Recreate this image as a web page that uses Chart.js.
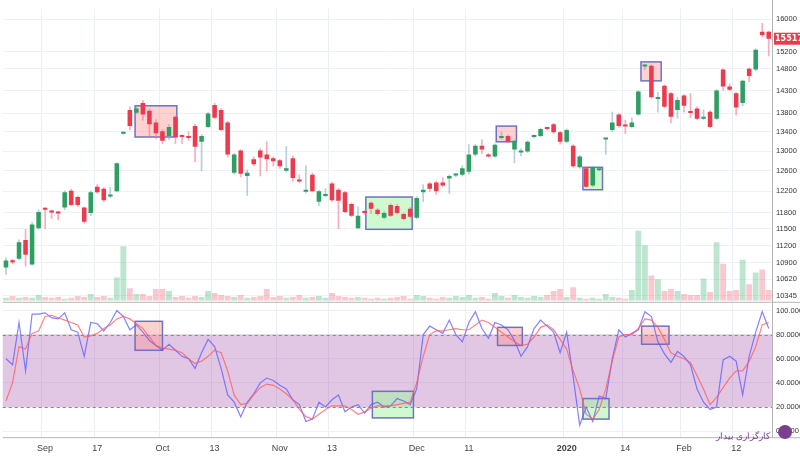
<!DOCTYPE html>
<html>
<head>
<meta charset="utf-8">
<script src="https://cdn.jsdelivr.net/npm/chart.js@4"></script>
<style>body{margin:0;background:#fff}</style>
</head>
<body>
<canvas id="myChart" width="800" height="460"></canvas>
<script>
// daily candles, Sep 2019 - Feb 2020
const open = [10820,10930,10970,11300,10870,11510,11870,11820,11800,11890,
  12210,12090,11890,11790,12290,12250,12100,12200,13360,13870,
  13810,14020,13850,13600,13410,13310,13720,13310,13290,13520,
  13190,13500,13980,13870,13600,12560,13010,12500,12830,13010,
  12930,12850,12810,12600,12850,12400,12190,12520,12000,12110,
  12350,12230,12180,11960,11510,11810,11980,11850,11700,11940,
  11920,11770,11870,11700,12180,12350,12370,12370,12450,12510,
  12520,12580,12930,13110,12930,12890,13270,13310,13030,12970,
  12990,13290,13310,13480,13560,13390,13190,13110,12670,12650,
  12310,12610,13240,13440,13770,13530,13500,13770,14850,14870,
  14110,14410,14240,13870,14190,13820,13900,13680,13830,13680,
  14780,14390,14240,14020,14800,14780,15690,15690];
const close = [10940,10910,11260,11040,11580,11810,11850,11800,11780,12180,
  11940,11940,11630,12180,12180,12030,12140,12750,13380,13520,
  13900,13770,13560,13370,13210,13500,13290,13290,13270,13090,
  13310,13790,13700,13440,12930,12930,12540,12560,12730,12870,
  12830,12790,12690,12650,12460,12390,12200,12200,12200,12120,
  12030,12020,11810,11740,11740,11790,11870,11770,11790,11740,
  11790,11680,11720,12070,12230,12250,12200,12310,12500,12530,
  12650,12930,13110,13030,12890,13130,13310,13190,13210,12980,
  13190,13310,13460,13460,13390,13190,13440,12690,12890,12290,
  12670,12620,13260,13600,13520,13510,13600,14280,14870,14150,
  14150,13940,13720,14090,13960,13800,13680,13720,13500,14300,
  14390,14320,13920,14520,14630,15250,15600,15517];
const high = [10990,10960,11300,11490,11620,11850,11890,11850,11820,12210,
  12240,12110,11900,12210,12330,12270,12270,12760,13400,13930,
  13960,14080,13900,13660,13450,13560,13740,13330,13400,13560,
  13340,13820,14020,13900,13620,12950,13030,12620,12880,13050,
  13190,12880,12830,13090,12900,12520,12700,12560,12220,12250,
  12380,12250,12200,11980,11900,11830,12000,11870,11820,11960,
  11950,11790,11890,12100,12330,12380,12400,12460,12520,12550,
  12700,13130,13130,13230,12950,13150,13400,13330,13230,13050,
  13210,13330,13480,13500,13580,13410,13460,13130,12910,12670,
  12690,12630,13270,13820,13790,13650,13700,14300,14900,14890,
  14260,14430,14260,14150,14210,14230,13940,13870,13850,14320,
  14800,14450,14260,14540,14820,15270,15900,15700];
const low = [10700,10880,10950,10840,10860,11490,11500,11690,11660,11850,
  11920,11910,11600,11740,12160,12000,12080,12190,13350,13440,
  13780,13650,13300,13250,13150,13230,13150,13150,13220,12780,
  12600,13480,13680,13420,12880,12540,12480,12120,12700,12500,
  12600,12700,12650,12580,12390,12360,12170,12190,11920,12090,
  12000,11500,11790,11720,11500,11770,11780,11750,11680,11720,
  11770,11660,11700,11680,12000,12200,12140,12290,12160,12480,
  12500,12540,12900,12950,12870,12870,13250,13170,12760,12900,
  12970,13270,13290,13440,13370,13140,13170,12670,12650,12270,
  12290,12600,12930,13400,13500,13360,13480,13750,14780,14130,
  13820,13920,13590,13690,13820,13700,13660,13660,13480,13660,
  14300,14300,13760,13960,14500,14750,15560,15100];
const volume = [3,5,3,4,3,6,4,3,4,2,
  3,5,4,7,4,5,3,24,56,13,
  7,7,5,12,12,10,4,5,3,5,
  4,10,8,6,5,4,6,3,4,5,
  12,4,5,3,4,6,3,4,5,3,
  8,5,4,3,4,3,2,3,2,3,
  4,5,2,6,5,3,2,4,3,5,
  4,6,3,4,2,8,5,3,6,4,
  3,5,4,6,10,12,4,14,3,2,
  3,2,7,4,3,2,11,72,57,26,
  22,10,12,10,7,6,6,23,9,60,
  38,10,11,42,17,29,32,11];
const stochK = [60,55,90,50,97,97,98,94,93,98,84,82,62,90,89,83,90,100,95,84,
  88,82,75,71,67,72,67,62,60,52,65,76,70,52,30,24,12,24,31,40,
  44,42,38,35,26,22,8,10,24,20,26,30,16,20,22,15,22,24,20,21,
  27,25,22,35,80,87,84,81,92,80,74,90,99,85,77,90,88,84,75,62,
  70,85,92,87,82,65,82,45,5,20,8,29,27,60,84,78,81,84,99,95,
  74,64,57,66,62,55,35,24,18,20,59,62,58,30,62,82,99,85];
const stochD = [25,40,70,68,81,83,95,96,94,92,90,88,78,79,81,85,88,93,95,93,
  89,85,78,71,69,68,67,65,60,56,58,62,67,65,50,30,22,23,30,36,
  39,38,35,31,26,18,12,10,14,18,21,21,21,18,14,16,19,21,21,21,
  22,23,24,40,62,80,83,83,84,85,84,84,88,92,90,86,82,78,74,71,
  72,78,86,88,84,76,68,50,35,14,10,18,35,58,78,80,80,85,93,92,
  86,76,65,62,60,57,46,35,22,28,36,44,50,50,58,70,88,90];
const dateTicks = {7:'Sep',15:'17',25:'Oct',33:'13',43:'Nov',51:'13',64:'Dec',72:'11',87:'2020',96:'14',105:'Feb',113:'12'};
const priceTicks = [10345,10620,10900,11200,11500,11800,12200,12600,13000,13400,13800,14300,14800,15200,16000];
const oscTicks = [0,20,40,60,80,100];
// highlighted zones: [fromIndex, toIndex, fromValue, toValue]
const priceBoxes = [[20.8,27.2,13960,13290,'red'],[56.2,63.3,12090,11490,'green'],[76.2,79.3,13520,13190,'red'],[89.5,92.5,12670,12230,'green'],[98.4,101.5,14960,14520,'red']];
const oscBoxes = [[20.8,25,91,67,'red'],[57.2,63.5,33,11,'green'],[76.4,80.2,86,71,'red'],[89.5,93.5,27,10,'green'],[98.5,102.7,87,72,'red']];

const days = open.map((o, i) => i + 1);
const up = open.map((o, i) => close[i] >= o);
const GREEN = '#2f9e63', RED = '#ec3a4e';

function idxX(scale, v) {
  const a = scale.getPixelForValue(0), b = scale.getPixelForValue(1);
  return a + (v - 1) * (b - a);
}

const decor = {
  id: 'decor',
  afterLayout(chart) {
    const v = chart.scales.yv, p = chart.scales.y;
    v.top = p.top; v.bottom = p.bottom; v.height = p.bottom - p.top;
    v.configure();
  },
  beforeDatasetsDraw(chart) {
    const c = chart.ctx, x = chart.scales.x, y = chart.scales.y, yo = chart.scales.yo, a = chart.chartArea;
    c.save();
    c.fillStyle = 'rgba(160,70,170,0.3)';
    c.fillRect(a.left, yo.getPixelForValue(80), a.right - a.left, yo.getPixelForValue(20) - yo.getPixelForValue(80));
    const box = (b, sc) => {
      const x1 = idxX(x, b[0]), x2 = idxX(x, b[1]);
      const y1 = sc.getPixelForValue(b[2]), y2 = sc.getPixelForValue(b[3]);
      c.fillStyle = b[4] === 'red' ? 'rgba(255,140,140,0.4)' : 'rgba(160,245,160,0.5)';
      c.fillRect(x1, y1, x2 - x1, y2 - y1);
      c.strokeStyle = '#6f72c2'; c.lineWidth = 1.5;
      c.strokeRect(x1, y1, x2 - x1, y2 - y1);
    };
    priceBoxes.forEach(b => box(b, y));
    oscBoxes.forEach(b => box(b, yo));
    c.restore();
  },
  afterDatasetsDraw(chart) {
    const c = chart.ctx, y = chart.scales.y, yo = chart.scales.yo, a = chart.chartArea;
    c.save();
    c.strokeStyle = '#888'; c.setLineDash([3, 3]); c.lineWidth = 1;
    [80, 20].forEach(v => {
      const py = Math.round(yo.getPixelForValue(v)) + 0.5;
      c.beginPath(); c.moveTo(a.left, py); c.lineTo(a.right, py); c.stroke();
    });
    c.setLineDash([]);
    c.strokeStyle = '#b5b5b5';
    c.beginPath(); c.moveTo(a.left, y.bottom + 1.5); c.lineTo(800, y.bottom + 1.5); c.stroke();
    c.beginPath(); c.moveTo(a.left, a.bottom + 0.5); c.lineTo(800, a.bottom + 0.5); c.stroke();
    c.beginPath(); c.moveTo(a.right + 0.5, 0); c.lineTo(a.right + 0.5, a.bottom); c.stroke();
    // last price tag
    const ly = y.getPixelForValue(close[close.length - 1]);
    c.fillStyle = '#ec3a4e';
    c.fillRect(a.right + 2, ly - 6, 800 - a.right - 2, 12);
    c.fillStyle = '#fff'; c.font = 'bold 8px "DejaVu Sans"'; c.textBaseline = 'middle';
    c.fillText(String(close[close.length - 1]), a.right + 3, ly);
    // watermark
    c.fillStyle = '#7a3f8f'; c.font = '9px "Noto Sans"'; c.textAlign = 'right';
    c.fillText('کارگزاری بیدار', 770, 436);
    c.beginPath(); c.arc(785, 432, 7, 0, Math.PI * 2); c.fill();
    c.restore();
  }
};

new Chart(document.getElementById('myChart'), {
  data: {
    labels: days,
    datasets: [
      {
        type: 'bar', data: days.map((d, i) => [low[i], high[i]]), yAxisID: 'y',
        backgroundColor: up.map(u => u ? 'rgba(120,170,190,0.55)' : 'rgba(240,120,140,0.6)'),
        barThickness: 1, grouped: false, order: 3
      },
      {
        type: 'bar', data: days.map((d, i) => [open[i], close[i]]), yAxisID: 'y',
        backgroundColor: up.map(u => u ? GREEN : RED),
        barPercentage: 0.7, categoryPercentage: 1, grouped: false, minBarLength: 2, order: 2
      },
      {
        type: 'bar', data: volume, yAxisID: 'yv',
        backgroundColor: up.map(u => u ? 'rgba(70,180,120,0.35)' : 'rgba(240,100,120,0.35)'),
        barPercentage: 0.9, categoryPercentage: 1, grouped: false, order: 4
      },
      {
        type: 'line', data: stochK, yAxisID: 'yo', borderColor: 'rgba(90,90,255,0.75)',
        borderWidth: 1.2, pointRadius: 0, tension: 0, order: 1
      },
      {
        type: 'line', data: stochD, yAxisID: 'yo', borderColor: 'rgba(255,90,90,0.75)',
        borderWidth: 1.2, pointRadius: 0, tension: 0, order: 0
      }
    ]
  },
  options: {
    responsive: false,
    animation: false,
    layout: { padding: 0 },
    plugins: { legend: { display: false }, tooltip: { enabled: false } },
    scales: {
      x: {
        offset: true,
        grid: { color: ctx => ctx.tick && ctx.tick.label ? '#eaeef5' : 'transparent', drawTicks: false },
        border: { display: false },
        ticks: {
          autoSkip: false, maxRotation: 0, padding: 6, color: '#444',
          font: ctx => ({ size: 9, weight: ctx.tick && ctx.tick.label === '2020' ? 'bold' : 'normal' }),
          callback: (v, i) => dateTicks[i + 1] || ''
        }
      },
      y: {
        type: 'logarithmic', position: 'right', stack: 'pane', stackWeight: 300,
        min: 10266, max: 16274,
        afterBuildTicks: s => { s.ticks = priceTicks.map(v => ({ value: v })); },
        afterFit: s => { s.width = 28; },
        grid: { color: '#eef1f6', drawTicks: false },
        border: { display: false },
        ticks: { autoSkip: false, color: '#333', font: { size: 7.5 }, padding: 4, callback: v => String(v) }
      },
      yo: {
        position: 'right', stack: 'pane', stackWeight: 140, min: -5, max: 108,
        afterBuildTicks: s => { s.ticks = oscTicks.map(v => ({ value: v })); },
        afterFit: s => { s.width = 28; },
        grid: { color: '#f0f0f4', drawTicks: false },
        border: { display: false },
        ticks: { autoSkip: false, color: '#333', font: { size: 7.5 }, padding: 4, callback: v => v.toFixed(4) }
      },
      yv: { display: false, min: 0, max: 300 }
    }
  },
  plugins: [decor]
});
</script>
</body>
</html>
